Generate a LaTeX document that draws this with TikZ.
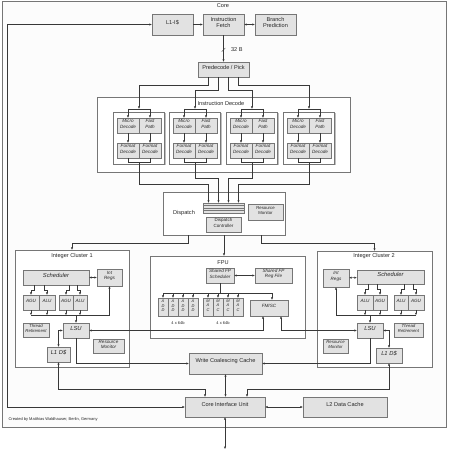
\documentclass[tikz,border=0pt]{standalone}
\usepackage{fontspec}
\setmainfont{Liberation Sans}
\usetikzlibrary{arrows.meta,positioning,fit,calc,shadows}
\definecolor{boxgray}{HTML}{E2E2E2}
\definecolor{linegray}{HTML}{383838}
\definecolor{edgegray}{HTML}{767676}
\newcommand{\tinyfont}{\fontsize{4}{4.6}\selectfont}

\begin{document}
\begin{tikzpicture}[x=1pt,y=-1pt,
  every node/.style={font=\fontsize{5.6}{6.3}\selectfont,text=black!85},
  unit/.style={rectangle,draw=edgegray,fill=boxgray,inner sep=0pt,align=center,
    drop shadow={shadow xshift=1pt,shadow yshift=-1pt,opacity=0.5}},
  grp/.style={rectangle,draw=edgegray,fill=white,inner sep=0pt,
    drop shadow={shadow xshift=1.3pt,shadow yshift=-1.3pt,opacity=0.5}},
  small/.style={font=\fontsize{4.6}{5.3}\selectfont\itshape},
  big/.style={font=\fontsize{5.8}{6.6}\selectfont\itshape},
  wire/.style={draw=linegray,line width=0.4pt},
  arr/.style={wire,-{Latex[length=2.4pt,width=2.2pt]}},
  darr/.style={wire,{Latex[length=2.4pt,width=2.2pt]}-{Latex[length=2.4pt,width=2.2pt]}}
]
\useasboundingbox (0,0) rectangle (450,450);
\node[grp,fill=black!1,fit={(2,1) (446,427)}] (core) {};
\node (lcore) at (223,6) {Core};

\node[unit,fit={(152,14) (193,35)}] (l1i) {L1-I\$};
\node[unit,fit={(203,14) (244,35)}] (ifetch) {Instruction\\Fetch};
\node[unit,fit={(255,14) (296,35)}] (bpred) {Branch\\Prediction};
\node[unit,fit={(198,62) (249,77)}] (pick) {Predecode / Pick};
\draw[arr] (l1i) -- (ifetch);
\draw[darr] (ifetch) -- (bpred);
\draw[arr] (ifetch) -- coordinate[pos=0.55] (bw) (pick);
\draw[wire] ([shift={(-1.8pt,-1.8pt)}]bw) -- ([shift={(1.8pt,1.8pt)}]bw);
\node[right=4pt of bw] (l32) {32 B};

\node[grp,fit={(97,97) (350,172)}] (idec) {};
\node (lidec) at (221,103) {Instruction Decode};
\foreach \i/\c in {1/139,2/195,3/252,4/309} {
  \node[grp,fit={(\c-25.5,112) (\c+25.5,164)}] (g\i) {};
  \node[unit,small,fit={(\c-22,118) (\c,133)}] (md\i) {Micro\\Decode};
  \node[unit,small,fit={(\c,118) (\c+22,133)}] (fp\i) {Fast\\Path};
  \node[unit,small,fit={(\c-22,143) (\c,158)}] (fa\i) {Format\\Decode};
  \node[unit,small,fit={(\c,143) (\c+22,158)}] (fb\i) {Format\\Decode};
  \coordinate (s\i) at ([yshift=3pt]g\i.north);
  \draw[wire] (s\i -| md\i.north) -- (s\i -| fp\i.north);
  \draw[arr] (s\i -| md\i.north) -- (md\i.north);
  \draw[arr] (s\i -| fp\i.north) -- (fp\i.north);
  \draw[arr] (md\i) -- (fa\i);
  \draw[arr] (fp\i) -- (fb\i);
  \draw[wire] (fa\i.south) -- ++(0,4) -| (fb\i.south);
}
\draw[arr] ([xshift=-15pt]pick.south) -- ++(0,8) -| (s1);
\draw[arr] ([xshift=-5pt]pick.south) -- ++(0,13) -| (s2);
\draw[arr] ([xshift=5pt]pick.south) -- ++(0,13) -| (s3);
\draw[arr] ([xshift=15pt]pick.south) -- ++(0,8) -| (s4);

\node[grp,fit={(163,192) (285,235)}] (disp) {};
\node (ldisp) at (184,213) {Dispatch};
\node[unit,fit={(203,203) (244,213)}] (queue) {};
\foreach \k in {2.5,5,7.5}
  \draw[draw=edgegray,line width=0.4pt] ([yshift=-\k pt]queue.north west) -- ([yshift=-\k pt]queue.north east);
\node[unit,font=\fontsize{4.5}{5.2}\selectfont,fit={(206,217) (241,232)}] (dctl) {Dispatch\\Controller};
\node[unit,font=\fontsize{4.3}{5}\selectfont,fit={(248,204) (283,220)}] (dmon) {Resource\\Monitor};
\draw[arr] ([yshift=2pt]g1.south) -- ++(0,22) -| ([xshift=-15pt]queue.north);
\draw[arr] ([yshift=2pt]g2.south) -- ++(0,16) -| ([xshift=-5pt]queue.north);
\draw[arr] ([yshift=2pt]g3.south) -- ++(0,16) -| ([xshift=5pt]queue.north);
\draw[arr] ([yshift=2pt]g4.south) -- ++(0,22) -| ([xshift=15pt]queue.north);

\node[grp,fit={(15,250) (129,367)}] (ic1) {};
\node (lic1) at (72,256) {Integer Cluster 1};
\node[unit,big,fit={(23,270) (89,285)}] (sch1) {Scheduler};
\node[unit,small,fit={(97,269) (122,286)}] (reg1) {Int\\Regs};
\foreach \j/\a/\b/\t in {1/23/39/AGU,2/39/55/ALU,3/59/73/AGU,4/73/87/ALU}
  \node[unit,small,fit={(\a,295) (\b,310)}] (ua\j) {\t};
\node[unit,big,fit={(63,323) (89,338)}] (lsu1) {LSU};
\node[unit,font=\fontsize{4.3}{5}\selectfont\itshape,fit={(23,323) (49,337)}] (tr1) {Thread\\Retirement};
\node[unit,small,fit={(93,339) (124,353)}] (rm1) {Resource\\Monitor};
\node[unit,big,fit={(47,347) (70,362)}] (l1d1) {L1 D\$};

\node[grp,fit={(150,256) (305,338)}] (fpu) {};
\node (lfpu) at (223,263) {FPU};
\node[unit,small,fit={(206,268) (234,283)}] (fsch) {Shared FP\\Scheduler};
\node[unit,small,fit={(255,268) (292,283)}] (freg) {Shared FP\\Reg File};
\foreach \k/\x in {1/163,2/173,3/183,4/193}
  \node[unit,font=\tinyfont\itshape,fit={(\x-4.8,298) (\x+4.8,316)}] (add\k) {A\\D\\D};
\foreach \k/\x in {1/208,2/218,3/228,4/238}
  \node[unit,font=\tinyfont\itshape,fit={(\x-4.8,298) (\x+4.8,316)}] (mac\k) {M\\A\\C};
\node[unit,small,fit={(250,300) (288,316)}] (fmisc) {FMISC};
\node[font=\tinyfont] (w1) at (178,323) {4 x 64b};
\node[font=\tinyfont] (w2) at (223,323) {4 x 64b};

\node[grp,fit={(317,251) (432,367)}] (ic2) {};
\node (lic2) at (374,256) {Integer Cluster 2};
\node[unit,small,fit={(323,269) (349,287)}] (reg2) {Int\\Regs};
\node[unit,big,fit={(357,270) (424,284)}] (sch2) {Scheduler};
\foreach \j/\a/\b/\t in {1/357/373/ALU,2/373/387/AGU,3/394/408/ALU,4/408/424/AGU}
  \node[unit,small,fit={(\a,295) (\b,310)}] (ub\j) {\t};
\node[unit,big,fit={(357,323) (383,338)}] (lsu2) {LSU};
\node[unit,font=\fontsize{4.3}{5}\selectfont\itshape,fit={(394,323) (423,337)}] (tr2) {Thread\\Retirement};
\node[unit,font=\fontsize{4.3}{5}\selectfont\itshape,fit={(323,339) (348,353)}] (rm2) {Resource\\Monitor};
\node[unit,big,fit={(376,348) (402,363)}] (l1d2) {L1 D\$};

\node[unit,fit={(189,353) (262,374)}] (wcc) {Write Coalescing Cache};
\node[unit,fit={(185,397) (265,417)}] (ciu) {Core Interface Unit};
\node[unit,fit={(303,397) (387,417)}] (l2) {L2 Data Cache};
\coordinate (ext) at (225,449);
\node[anchor=west,font=\tinyfont] (credit) at (5,419) {Created by Matthias Waldhauser, Berlin, Germany};

\draw[arr] ([xshift=-36pt]disp.south) -- ++(0,8) -| (ic1.north);
\draw[arr] (disp.south) -- (disp.south |- fpu.north);
\draw[arr] ([xshift=37pt]disp.south) -- ++(0,8) -| (ic2.north);

\draw[darr] (sch1) -- (reg1);
\foreach \j/\d in {1/3,2/-3,3/3,4/-3}
  \draw[arr] ($(ua\j.north |- sch1.south)+(\d,0)$) -- ++(0,5) -| (ua\j.north);
\coordinate (bus1) at ($(ua1.south)+(0,5)$);
\draw[wire] (bus1) -- (bus1 -| reg1.south);
\foreach \j in {1,...,4} \draw[arr] (ua\j.south) -- (bus1 -| ua\j.south);
\draw[arr] (bus1 -| reg1.south) -- (reg1.south);
\draw[arr] (bus1 -| lsu1.north) -- (lsu1.north);
\draw[darr] (l1d1.north) |- (lsu1.west);

\draw[darr] (reg2) -- (sch2);
\foreach \j/\d in {1/3,2/-3,3/3,4/-3}
  \draw[arr] ($(ub\j.north |- sch2.south)+(\d,0)$) -- ++(0,5) -| (ub\j.north);
\coordinate (bus2) at ($(ub4.south)+(0,5)$);
\draw[wire] (bus2) -- (bus2 -| reg2.south);
\foreach \j in {1,...,4} \draw[arr] (ub\j.south) -- (bus2 -| ub\j.south);
\draw[arr] (bus2 -| reg2.south) -- (reg2.south);
\draw[arr] (bus2 -| lsu2.north) -- (lsu2.north);
\draw[darr] (l1d2.north) |- (lsu2.east);

\draw[darr] (fsch) -- (freg);
\draw[wire] (fsch.south) -- ++(0,10) coordinate (fb);
\draw[wire] (fb -| add1.north) -- ([xshift=3pt]fb -| fmisc.north);
\foreach \k in {1,...,4} {
  \draw[arr] (fb -| add\k.north) -- (add\k.north);
  \draw[arr] (fb -| mac\k.north) -- (mac\k.north);
}
\draw[arr] ([xshift=3pt]fb -| fmisc.north) -- ([xshift=3pt]fmisc.north);

\draw[darr] (lsu1.east) -| ([xshift=-6pt]fmisc.south);
\draw[darr] (lsu2.west) -| ([xshift=12pt]fmisc.south);
\draw[arr] (lsu1.south) |- (wcc.west);
\draw[arr] (lsu2.south) |- (wcc.east);
\draw[darr] (l1d1.south) -- ++(0,27) -| ([xshift=-20pt]ciu.north);
\draw[darr] (l1d2.south) -- ++(0,26) -| ([xshift=22pt]ciu.north);
\draw[darr] (wcc) -- (wcc.south |- ciu.north);
\draw[darr] (ciu) -- (l2);
\draw[darr] (ciu.west) -- ++(-178,0) |- (l1i.west);
\draw[darr] (ciu.south) -- (ext);
\end{tikzpicture}
\end{document}
